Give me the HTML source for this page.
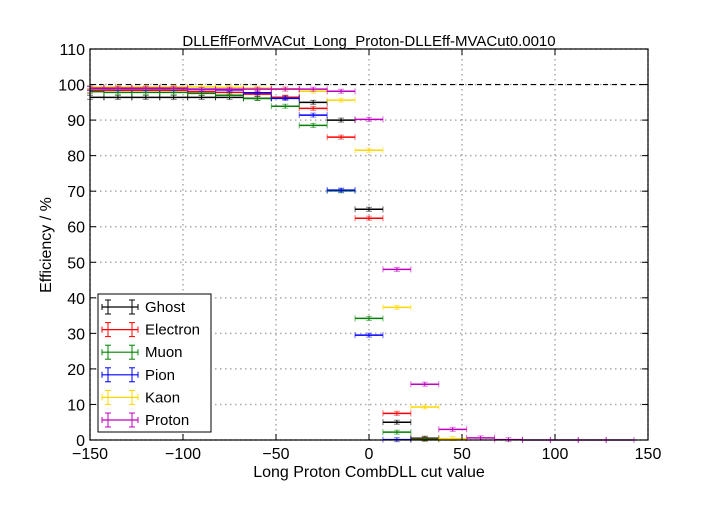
<!DOCTYPE html>
<html><head><meta charset="utf-8">
<style>
body{margin:0;background:#fff;}
svg text{font-family:"Liberation Sans",sans-serif;}
</style></head>
<body>
<svg id="chart" width="720" height="504" xmlns="http://www.w3.org/2000/svg">
<rect width="720" height="504" fill="#fff"/>
<g id="grid"></g>
<g id="series"></g>
<g id="axes"></g>
<g id="legend"></g>
</svg>
<script>
const centers = [-150,-135,-120,-105,-90,-75,-60,-45,-30,-15,0,15,30,45,60,75,90,105,120,135,150];
const ghost    = [96.4,96.4,96.4,96.4,96.4,96.4,96.1,96.4,95.0,90.0,64.9,5.0,0.5,null,null,null,null,null,null,null,null];
const electron = [98.4,98.4,98.4,98.4,98.0,97.8,97.3,96.4,93.3,85.2,62.4,7.5,0.3,null,null,null,null,null,null,null,null];
const muon     = [98.0,97.8,97.8,97.8,97.5,97.0,96.1,93.9,88.5,70.1,34.2,2.2,0.2,null,null,null,null,null,null,null,null];
const pion     = [98.9,98.9,98.9,98.9,98.7,98.5,97.7,96.1,91.4,70.3,29.5,0.1,null,null,null,null,null,null,null,null,null];
const kaon     = [99.3,99.3,99.3,99.3,99.3,99.2,99.0,98.8,98.1,95.6,81.5,37.3,9.3,0.4,null,null,null,null,null,null,null];
const proton   = [99.0,99.0,99.0,99.0,98.6,98.7,98.7,98.7,98.7,98.1,90.2,48.0,15.7,3.0,0.6,0.1,0,0,0,0,null];
const seriesNames = ["Ghost","Electron","Muon","Pion","Kaon","Proton"];
const xTicks = [-150,-100,-50,0,50,100,150];
const yTicks = [0,10,20,30,40,50,60,70,80,90,100,110];
const binHalf = 7.5;

const L=90,R=648,T=49,B=440;
const xs=v=>L+(v+150)/300*(R-L);
const ys=v=>B-v/110*(B-T);
const NS="http://www.w3.org/2000/svg";
function mk(tag,attrs,parent){const e=document.createElementNS(NS,tag);for(const k in attrs)e.setAttribute(k,attrs[k]);parent.appendChild(e);return e;}
const grid=document.getElementById('grid'),axes=document.getElementById('axes'),ser=document.getElementById('series'),leg=document.getElementById('legend');

xTicks.forEach(t=>{
  const g=mk('line',{x1:xs(t),x2:xs(t),y1:T,y2:B,stroke:'#aaa','stroke-dasharray':'1.5,3.5','stroke-width':1.5},grid);
  
  
  mk('line',{x1:xs(t),x2:xs(t),y1:B,y2:B-6,stroke:'#000'},axes);
  mk('line',{x1:xs(t),x2:xs(t),y1:T,y2:T+6,stroke:'#000'},axes);
  const tx=mk('text',{x:xs(t),y:B+19,'text-anchor':'middle','font-size':16},axes);
  tx.textContent=(t<0?'\u2212'+(-t):t);
  
  
});
yTicks.forEach(t=>{
  const g=mk('line',{x1:L,x2:R,y1:ys(t),y2:ys(t),stroke:'#aaa','stroke-dasharray':'1.5,3.5','stroke-width':1.5},grid);
  
  
  mk('line',{x1:L,x2:L+6,y1:ys(t),y2:ys(t),stroke:'#000'},axes);
  mk('line',{x1:R,x2:R-6,y1:ys(t),y2:ys(t),stroke:'#000'},axes);
  const tx=mk('text',{x:L-5,y:ys(t)+6,'text-anchor':'end','font-size':16},axes);
  tx.textContent=t;
  
  
});
const ref=mk('line',{x1:L,x2:R,y1:ys(100),y2:ys(100),stroke:'#000','stroke-dasharray':'5,4','stroke-width':1.2},grid);



const colors=['#000000','#ff0000','#008000','#0000ff','#ffd700','#bf00bf'];
const data=[ghost,electron,muon,pion,kaon,proton];
data.forEach((arr,si)=>{
  const g=mk('g',{},ser);
  
  
  arr.forEach((v,i)=>{
    if(v===null)return;
    const c=centers[i];
    const x1=xs(Math.max(-150,c-binHalf)),x2=xs(Math.min(150,c+binHalf)),y=ys(v);
    const m=mk('g',{},g);
    
    
    mk('line',{x1:x1,x2:x2,y1:y,y2:y,stroke:colors[si],'stroke-width':1.5},m);
    mk('line',{x1:x1,x2:x1,y1:y-3,y2:y+3,stroke:colors[si],'stroke-opacity':0.6,'stroke-width':1},m);
    mk('line',{x1:x2,x2:x2,y1:y-3,y2:y+3,stroke:colors[si],'stroke-opacity':0.6,'stroke-width':1},m);
    if(v>0){
      mk('line',{x1:xs(c)-3,x2:xs(c)+3,y1:y-2,y2:y-2,stroke:colors[si],'stroke-opacity':0.5},m);
      mk('line',{x1:xs(c)-3,x2:xs(c)+3,y1:y+2,y2:y+2,stroke:colors[si],'stroke-opacity':0.5},m);
      mk('line',{x1:xs(c),x2:xs(c),y1:y-2,y2:y+2,stroke:colors[si]},m);
    }
  });
});
const frame=mk('rect',{x:L,y:T,width:R-L,height:B-T,fill:'none',stroke:'#000','stroke-width':1.2},axes);



const title=mk('text',{x:369,y:46,'text-anchor':'middle','font-size':15},axes);
title.textContent='DLLEffForMVACut_Long_Proton-DLLEff-MVACut0.0010';


const xl=mk('text',{x:369,y:477,'text-anchor':'middle','font-size':16},axes);
xl.textContent='Long Proton CombDLL cut value';


const yl=mk('text',{x:51,y:245,'text-anchor':'middle','font-size':16,transform:'rotate(-90 51 245)'},axes);
yl.textContent='Efficiency / %';



const lb=mk('rect',{x:98,y:294,width:113,height:138,fill:'#fff',stroke:'#000'},leg);


seriesNames.forEach((n,i)=>{
  const y=307+i*22.6;
  const g=mk('g',{},leg);
  
  
  mk('line',{x1:102,x2:138,y1:y,y2:y,stroke:colors[i],'stroke-width':1.2},g);
  [108,132].forEach(x=>{
    mk('line',{x1:x,x2:x,y1:y-7,y2:y+7,stroke:colors[i]},g);
    mk('line',{x1:x-3,x2:x+3,y1:y-7,y2:y-7,stroke:colors[i]},g);
    mk('line',{x1:x-3,x2:x+3,y1:y+7,y2:y+7,stroke:colors[i]},g);
  });
  mk('line',{x1:102,x2:102,y1:y-3,y2:y+3,stroke:colors[i]},g);
  mk('line',{x1:138,x2:138,y1:y-3,y2:y+3,stroke:colors[i]},g);
  const t=mk('text',{x:145,y:y+5,'font-size':15},g);
  t.textContent=n;
});
</script>
</body></html>
